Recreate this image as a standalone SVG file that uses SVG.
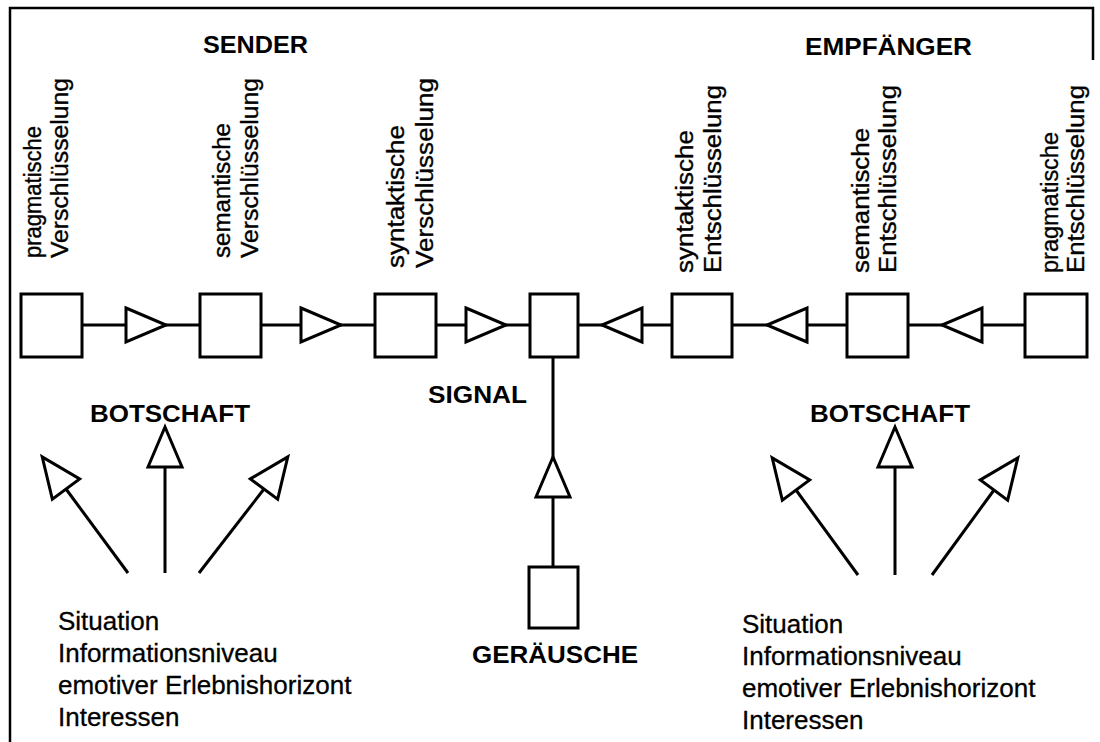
<svg xmlns="http://www.w3.org/2000/svg" width="1100" height="742" viewBox="0 0 1100 742">
  <style>
    .frame { fill: none; stroke: #000; stroke-width: 2.5; }
    .box { fill: #fff; stroke: #000; stroke-width: 3; }
    .wire { fill: none; stroke: #000; stroke-width: 3; }
    .head { fill: #fff; stroke: #000; stroke-width: 3; stroke-linejoin: miter; }
    .title { font-family: "Liberation Sans", Arial, sans-serif; font-weight: bold; font-size: 24px; fill: #000; }
    .stage { font-family: "Liberation Sans", Arial, sans-serif; font-size: 23px; fill: #000; stroke: #000; stroke-width: 0.35; }
    .body { font-family: "Liberation Sans", Arial, sans-serif; font-size: 26px; fill: #000; stroke: #000; stroke-width: 0.3; }
  </style>
  <defs>
    <!-- open triangular arrowhead, base at origin, tip pointing along +x -->
    <path id="tri" d="M0,-17 L40,0 L0,17 Z"/>
  </defs>

  <rect width="1100" height="742" fill="#fff"/>

  <!-- page frame (open at the bottom) -->
  <path class="frame" d="M10,742 L10,8 L1093,8 L1093,60"/>

  <!-- connectors -->
  <g id="connectors">
    <!-- encoding / decoding chain -->
    <line class="wire" x1="82" y1="325" x2="200" y2="325"/>
    <line class="wire" x1="261" y1="325" x2="375" y2="325"/>
    <line class="wire" x1="436" y1="325" x2="530" y2="325"/>
    <line class="wire" x1="578" y1="325" x2="672" y2="325"/>
    <line class="wire" x1="732" y1="325" x2="847" y2="325"/>
    <line class="wire" x1="908" y1="325" x2="1025" y2="325"/>
    <use href="#tri" class="head" transform="translate(126,325)"/>
    <use href="#tri" class="head" transform="translate(301,325)"/>
    <use href="#tri" class="head" transform="translate(466,325)"/>
    <use href="#tri" class="head" transform="translate(642,325) rotate(180)"/>
    <use href="#tri" class="head" transform="translate(807,325) rotate(180)"/>
    <use href="#tri" class="head" transform="translate(982,325) rotate(180)"/>

    <!-- noise into the signal -->
    <line class="wire" x1="553" y1="357" x2="553" y2="567"/>
    <use href="#tri" class="head" transform="translate(553,497) rotate(-90)"/>

    <!-- sender-side influences on the message -->
    <line class="wire" x1="128" y1="573" x2="66" y2="489"/>
    <line class="wire" x1="165" y1="573" x2="165" y2="467"/>
    <line class="wire" x1="199" y1="573" x2="264" y2="489"/>
    <use href="#tri" class="head" transform="translate(66,489) rotate(-126.5)"/>
    <use href="#tri" class="head" transform="translate(165,467) rotate(-90)"/>
    <use href="#tri" class="head" transform="translate(264,489) rotate(-53.5)"/>

    <!-- receiver-side influences on the message -->
    <line class="wire" x1="858" y1="575" x2="796" y2="490"/>
    <line class="wire" x1="895" y1="575" x2="895" y2="467"/>
    <line class="wire" x1="932" y1="575" x2="994" y2="490"/>
    <use href="#tri" class="head" transform="translate(796,490) rotate(-126.5)"/>
    <use href="#tri" class="head" transform="translate(895,467) rotate(-90)"/>
    <use href="#tri" class="head" transform="translate(994,490) rotate(-53.5)"/>
  </g>

  <!-- section headings -->
  <g id="sender-title">
    <text class="title" x="203" y="53" textLength="105" lengthAdjust="spacingAndGlyphs">SENDER</text>
  </g>
  <g id="receiver-title">
    <text class="title" x="805" y="55" textLength="167" lengthAdjust="spacingAndGlyphs">EMPFÄNGER</text>
  </g>

  <!-- sender stages -->
  <g id="pragmatic-encoding">
    <rect class="box" x="21" y="294" width="61" height="63"/>
    <text class="stage" transform="translate(41,258) rotate(-90)" textLength="132" lengthAdjust="spacingAndGlyphs">pragmatische</text>
    <text class="stage" transform="translate(68,258) rotate(-90)" textLength="180" lengthAdjust="spacingAndGlyphs">Verschlüsselung</text>
  </g>
  <g id="semantic-encoding">
    <rect class="box" x="200" y="294" width="61" height="63"/>
    <text class="stage" transform="translate(230,258) rotate(-90)" textLength="135" lengthAdjust="spacingAndGlyphs">semantische</text>
    <text class="stage" transform="translate(258,258) rotate(-90)" textLength="180" lengthAdjust="spacingAndGlyphs">Verschlüsselung</text>
  </g>
  <g id="syntactic-encoding">
    <rect class="box" x="375" y="294" width="61" height="63"/>
    <text class="stage" transform="translate(404,268) rotate(-90)" textLength="143" lengthAdjust="spacingAndGlyphs">syntaktische</text>
    <text class="stage" transform="translate(433,268) rotate(-90)" textLength="190" lengthAdjust="spacingAndGlyphs">Verschlüsselung</text>
  </g>

  <!-- channel -->
  <g id="signal">
    <rect class="box" x="530" y="294" width="48" height="63"/>
    <text class="title" x="428" y="403" textLength="99" lengthAdjust="spacingAndGlyphs">SIGNAL</text>
  </g>
  <g id="noise">
    <rect class="box" x="529" y="567" width="49" height="61"/>
    <text class="title" x="472" y="663" textLength="166" lengthAdjust="spacingAndGlyphs">GERÄUSCHE</text>
  </g>

  <!-- receiver stages -->
  <g id="syntactic-decoding">
    <rect class="box" x="672" y="294" width="60" height="63"/>
    <text class="stage" transform="translate(693,273) rotate(-90)" textLength="143" lengthAdjust="spacingAndGlyphs">syntaktische</text>
    <text class="stage" transform="translate(721,273) rotate(-90)" textLength="188" lengthAdjust="spacingAndGlyphs">Entschlüsselung</text>
  </g>
  <g id="semantic-decoding">
    <rect class="box" x="847" y="294" width="61" height="63"/>
    <text class="stage" transform="translate(869,273) rotate(-90)" textLength="145" lengthAdjust="spacingAndGlyphs">semantische</text>
    <text class="stage" transform="translate(896,273) rotate(-90)" textLength="188" lengthAdjust="spacingAndGlyphs">Entschlüsselung</text>
  </g>
  <g id="pragmatic-decoding">
    <rect class="box" x="1025" y="294" width="62" height="63"/>
    <text class="stage" transform="translate(1058,273) rotate(-90)" textLength="141" lengthAdjust="spacingAndGlyphs">pragmatische</text>
    <text class="stage" transform="translate(1084,273) rotate(-90)" textLength="188" lengthAdjust="spacingAndGlyphs">Entschlüsselung</text>
  </g>

  <!-- message and its context, sender side -->
  <g id="sender-message">
    <text class="title" x="90" y="422" textLength="160" lengthAdjust="spacingAndGlyphs">BOTSCHAFT</text>
  </g>
  <g id="sender-context">
    <text class="body" x="58" y="630">Situation</text>
    <text class="body" x="58" y="662">Informationsniveau</text>
    <text class="body" x="58" y="694">emotiver Erlebnishorizont</text>
    <text class="body" x="58" y="726">Interessen</text>
  </g>

  <!-- message and its context, receiver side -->
  <g id="receiver-message">
    <text class="title" x="810" y="422" textLength="160" lengthAdjust="spacingAndGlyphs">BOTSCHAFT</text>
  </g>
  <g id="receiver-context">
    <text class="body" x="742" y="633">Situation</text>
    <text class="body" x="742" y="665">Informationsniveau</text>
    <text class="body" x="742" y="697">emotiver Erlebnishorizont</text>
    <text class="body" x="742" y="729">Interessen</text>
  </g>
</svg>
